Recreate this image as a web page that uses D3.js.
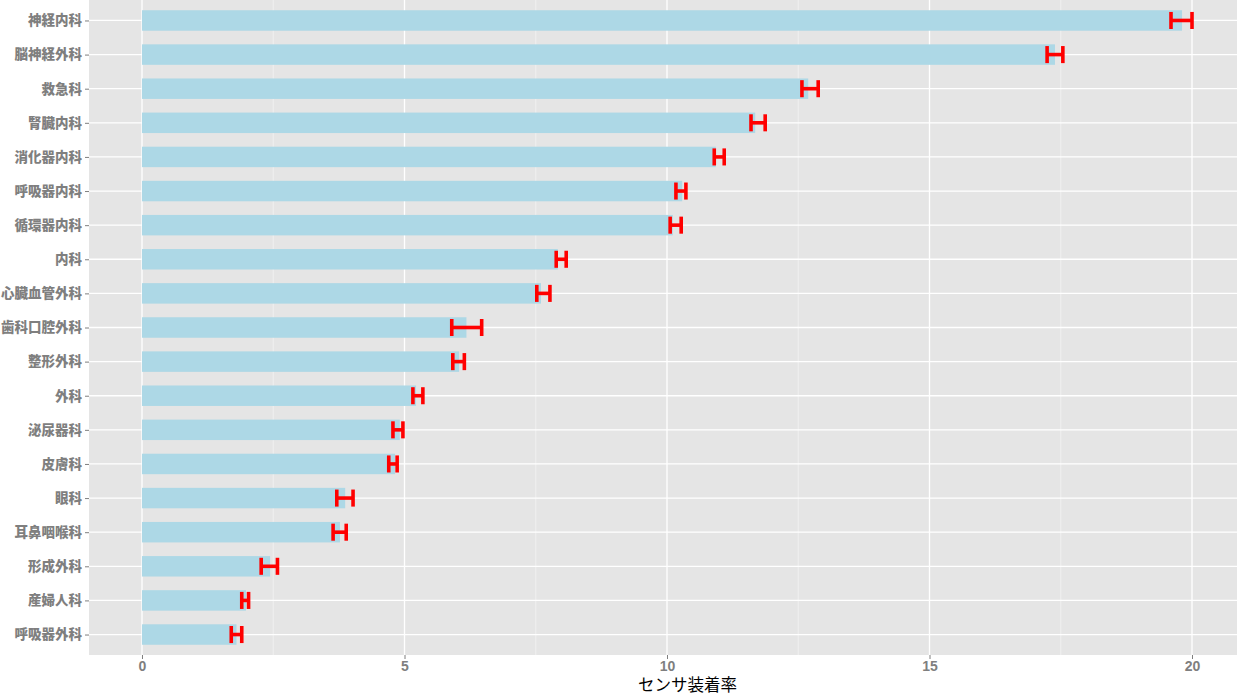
<!DOCTYPE html>
<html>
<head>
<meta charset="utf-8">
<script src="https://cdn.jsdelivr.net/npm/d3@7"></script>
<style>
  body { margin: 0; background: #fff; }
  svg { display: block; }
</style>
</head>
<body>
<div id="chart_box"></div>
<script>
// departments, top to bottom
var categories = ["神経内科", "脳神経外科", "救急科", "腎臓内科", "消化器内科", "呼吸器内科",
  "循環器内科", "内科", "心臓血管外科", "歯科口腔外科", "整形外科", "外科", "泌尿器科",
  "皮膚科", "眼科", "耳鼻咽喉科", "形成外科", "産婦人科", "呼吸器外科"];
var values = [19.81, 17.39, 12.69, 11.68, 10.93, 10.29, 10.11, 7.92, 7.60, 6.18, 6.04,
  5.22, 4.91, 4.82, 3.87, 3.77, 2.44, 1.98, 1.80];
var lower = [19.60, 17.24, 12.57, 11.60, 10.90, 10.17, 10.06, 7.89, 7.52, 5.90, 5.92,
  5.16, 4.78, 4.70, 3.71, 3.64, 2.27, 1.90, 1.70];
var upper = [20.00, 17.54, 12.88, 11.87, 11.09, 10.36, 10.27, 8.08, 7.77, 6.47, 6.14,
  5.35, 4.97, 4.86, 4.02, 3.89, 2.58, 2.03, 1.90];
var xTicks = [0, 5, 10, 15, 20];
var xMinor = [2.5, 7.5, 12.5, 17.5];
var xTitle = "センサ装着率";

var width = 1237, height = 697;
var panel = { left: 89, right: 1237, top: 0, bottom: 655 };

var svg = d3.select("#chart_box").append("svg")
  .attr("width", width)
  .attr("height", height);

var x = d3.scaleLinear()
  .domain([-1.0095, 20.857])
  .range([panel.left, panel.right]);

var y = d3.scalePoint()
  .domain(categories)
  .range([panel.top, panel.bottom])
  .padding(0.6);

var step = y.step();
var barH = step * 0.6;

// panel background
svg.append("rect")
  .attr("x", panel.left).attr("y", panel.top)
  .attr("width", panel.right - panel.left)
  .attr("height", panel.bottom - panel.top)
  .attr("fill", "#E5E5E5");

var grid = svg.append("g");
grid.selectAll(".minor")
  .data(xMinor).enter().append("line")
  .attr("x1", function (d) { return x(d); })
  .attr("x2", function (d) { return x(d); })
  .attr("y1", panel.top).attr("y2", panel.bottom)
  .attr("stroke", "#F2F2F2").attr("stroke-width", 0.8);
grid.selectAll(".major")
  .data(xTicks).enter().append("line")
  .attr("x1", function (d) { return x(d); })
  .attr("x2", function (d) { return x(d); })
  .attr("y1", panel.top).attr("y2", panel.bottom)
  .attr("stroke", "#fff").attr("stroke-width", 1.3);
grid.selectAll(".hline")
  .data(categories).enter().append("line")
  .attr("x1", panel.left).attr("x2", panel.right)
  .attr("y1", function (d) { return y(d); })
  .attr("y2", function (d) { return y(d); })
  .attr("stroke", "#fff").attr("stroke-width", 1.3);

// bars
svg.selectAll(".bar")
  .data(categories).enter().append("rect")
  .attr("x", x(0))
  .attr("y", function (d) { return y(d) - barH / 2; })
  .attr("width", function (d, i) { return x(values[i]) - x(0); })
  .attr("height", barH)
  .attr("fill", "#ADD8E6");

// error bars
var half = step * 0.25;
var err = svg.selectAll(".err")
  .data(categories).enter().append("g")
  .attr("stroke", "#FF0000")
  .attr("stroke-width", 3.6)
  .attr("fill", "none");
err.append("line")
  .attr("x1", function (d, i) { return x(lower[i]); })
  .attr("x2", function (d, i) { return x(upper[i]); })
  .attr("y1", function (d) { return y(d); })
  .attr("y2", function (d) { return y(d); });
err.append("line")
  .attr("x1", function (d, i) { return x(lower[i]); })
  .attr("x2", function (d, i) { return x(lower[i]); })
  .attr("y1", function (d) { return y(d) - half; })
  .attr("y2", function (d) { return y(d) + half; });
err.append("line")
  .attr("x1", function (d, i) { return x(upper[i]); })
  .attr("x2", function (d, i) { return x(upper[i]); })
  .attr("y1", function (d) { return y(d) - half; })
  .attr("y2", function (d) { return y(d) + half; });

// axes
var xAxis = svg.append("g")
  .attr("transform", "translate(0," + panel.bottom + ")")
  .call(d3.axisBottom(x).tickValues(xTicks).tickSize(4).tickPadding(2).tickFormat(d3.format("d")));
xAxis.select(".domain").remove();
xAxis.selectAll("line").attr("stroke", "#7F7F7F");
xAxis.selectAll("text")
  .attr("fill", "#7F7F7F")
  .style("font-family", "Liberation Sans, Arial, sans-serif")
  .style("font-weight", "bold")
  .style("font-size", "14px");

var yAxis = svg.append("g")
  .attr("transform", "translate(" + panel.left + ",0)")
  .call(d3.axisLeft(y).tickSize(4).tickPadding(3));
yAxis.select(".domain").remove();
yAxis.selectAll("line").attr("stroke", "#7F7F7F");
yAxis.selectAll("text")
  .attr("fill", "#7F7F7F")
  .style("font-family", "Noto Sans CJK JP, sans-serif")
  .style("font-weight", "900")
  .style("font-size", "13.5px");

svg.append("text")
  .attr("x", x(0) + (panel.right - x(0)) / 2 - 2)
  .attr("y", 691)
  .attr("text-anchor", "middle")
  .attr("fill", "#000")
  .style("font-family", "Noto Sans CJK JP, sans-serif")
  .style("font-size", "16.5px")
  .text(xTitle);
</script>
</body>
</html>
